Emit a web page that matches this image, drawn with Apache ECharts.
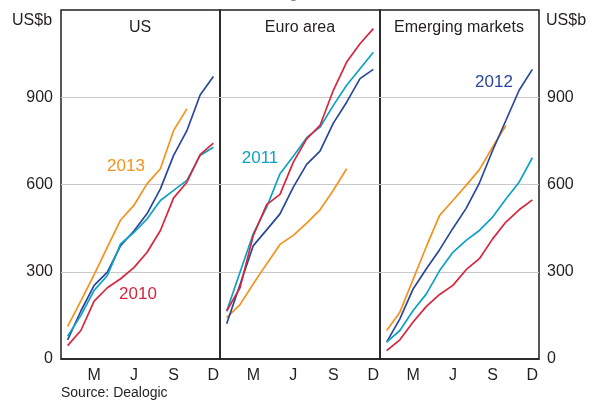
<!DOCTYPE html>
<html>
<head>
<meta charset="utf-8">
<title>Bond issuance</title>
<script src="https://cdn.jsdelivr.net/npm/echarts@6/dist/echarts.min.js"></script>
<style>
  html, body { margin: 0; padding: 0; background: #fff; }
  #main { width: 600px; height: 401px; }
</style>
</head>
<body>
<div id="main"></div>
<script>
var months = ['J', 'F', 'M', 'A', 'M', 'J', 'J', 'A', 'S', 'O', 'N', 'D'];
var panels = ['US', 'Euro area', 'Emerging markets'];
var years = ['2010', '2011', '2012', '2013'];

// cumulative issuance, US$b, one value per month
var us2010 = [46, 98, 199, 245, 276, 314, 367, 442, 554, 608, 703, 742];
var us2011 = [78, 150, 236, 287, 396, 435, 482, 545, 580, 614, 700, 728];
var us2012 = [66, 165, 253, 299, 390, 440, 500, 585, 700, 785, 908, 971];
var us2013 = [112, 200, 290, 385, 478, 528, 603, 654, 786, 860];

var euro2010 = [165, 245, 425, 531, 566, 677, 757, 803, 924, 1021, 1084, 1136];
var euro2011 = [164, 298, 431, 522, 637, 697, 761, 797, 872, 941, 998, 1055];
var euro2012 = [121, 255, 390, 444, 499, 591, 669, 715, 811, 883, 964, 996];
var euro2013 = [142, 187, 259, 327, 394, 425, 467, 513, 580, 654];

var em2010 = [29, 66, 127, 181, 222, 253, 307, 345, 413, 471, 513, 547];
var em2011 = [58, 98, 167, 224, 304, 367, 408, 442, 488, 550, 608, 692];
var em2012 = [58, 138, 241, 310, 376, 449, 518, 605, 717, 820, 924, 996];
var em2013 = [98, 161, 274, 387, 494, 545, 597, 651, 729, 803];

var panelData = [
  [us2010, us2011, us2012, us2013],
  [euro2010, euro2011, euro2012, euro2013],
  [em2010, em2011, em2012, em2013]
];

var colors = ['#d7263d', '#0ea2c5', '#2b479c', '#f5921e'];
var font = 'Liberation Sans, Arial, sans-serif';
var ink = '#231f20';

var gridLefts = [61, 220, 380];
var gridWidths = [159, 160, 159];

var grids = [], xAxes = [], yAxes = [], series = [];
for (var p = 0; p < 3; p++) {
  grids.push({ left: gridLefts[p], width: gridWidths[p], top: 10, height: 349, show: true, borderColor: ink, borderWidth: 1.5 });
  xAxes.push({
    type: 'category', gridIndex: p, data: months, boundaryGap: true,
    axisLine: { lineStyle: { color: ink, width: 1.5 } },
    axisTick: { inside: true, length: 6, interval: 0, lineStyle: { color: ink, width: 1 } },
    axisLabel: {
      interval: function (i) { return i % 3 === 2; },
      color: ink, fontSize: 16, fontFamily: font, margin: 9
    },
    splitLine: { show: false }
  });
  yAxes.push({
    type: 'value', gridIndex: p, min: 0, max: 1200, interval: 300,
    position: p === 2 ? 'right' : 'left',
    axisLine: { show: false },
    axisTick: { show: false },
    axisLabel: { show: p !== 1, showMaxLabel: false, color: ink, fontSize: 16, fontFamily: font, margin: 8 },
    splitLine: { show: true, showMinLine: false, showMaxLine: false, lineStyle: { color: '#c8c8c8', width: 1 } }
  });
  // draw 2013 first so 2010 ends on top
  for (var s = 3; s >= 0; s--) {
    series.push({
      name: panels[p] + ' ' + years[s], type: 'line',
      xAxisIndex: p, yAxisIndex: p,
      data: panelData[p][s],
      symbol: 'none', silent: true,
      lineStyle: { color: colors[s], width: 1.7 }
    });
  }
}

function txt(x, y, text, color, size, align) {
  return {
    type: 'text', x: x, y: y, silent: true,
    style: { text: text, fill: color, fontSize: size, fontFamily: font, align: align || 'center', verticalAlign: 'middle' }
  };
}

var chart = echarts.init(document.getElementById('main'));
chart.setOption({
  animation: false,
  grid: grids,
  xAxis: xAxes,
  yAxis: yAxes,
  series: series,
  graphic: [
    txt(300, -6, 'Cumulative gross issuance', '#888', 15),
    txt(12, 21, 'US$b', ink, 16, 'left'),
    txt(546, 21, 'US$b', ink, 16, 'left'),
    txt(140, 28, panels[0], ink, 16),
    txt(300, 28, panels[1], ink, 16),
    txt(459, 28, panels[2], ink, 16),
    txt(126, 166, years[3], colors[3], 17),
    txt(138, 294, years[0], colors[0], 17),
    txt(260, 158, years[1], colors[1], 17),
    txt(494, 82, years[2], colors[2], 17),
    txt(61, 393, 'Source: Dealogic', ink, 14, 'left')
  ]
});
</script>
</body>
</html>
